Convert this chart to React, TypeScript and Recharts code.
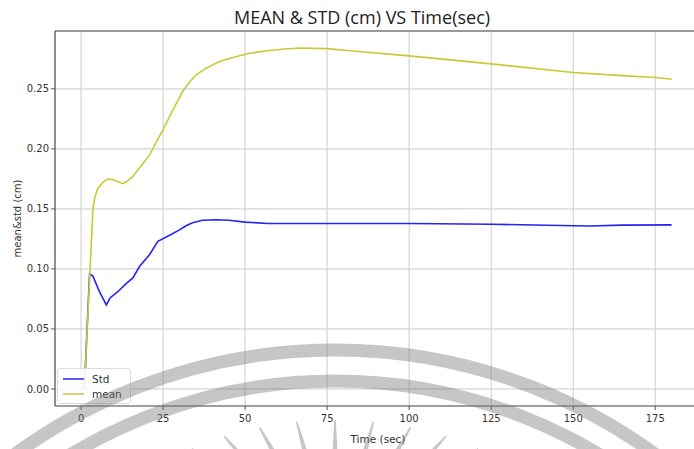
import React from "react";
import {
  LineChart,
  Line,
  XAxis,
  YAxis,
  CartesianGrid,
  Legend,
  ReferenceLine,
} from "recharts";

// values
const stdTime = [
  1, 2.6, 3.6, 5.6, 7.7, 8.9, 11.2, 13.8, 15.8, 17.8, 20.9, 23.4, 27, 30, 32,
  34, 37, 41, 45, 50, 57, 75, 100, 125, 150, 155, 165, 180,
];
const stdValues = [
  0, 0.096, 0.094, 0.081, 0.07, 0.076, 0.081, 0.088, 0.0925, 0.102, 0.112,
  0.123, 0.128, 0.1325, 0.136, 0.1385, 0.1405, 0.141, 0.1405, 0.139, 0.1378,
  0.1378, 0.1378, 0.1372, 0.136, 0.1358, 0.1365, 0.1367,
];
const meanTime = [
  1, 3.6, 4.2, 5.1, 6.6, 8.2, 10, 12.7, 14, 15.8, 18, 20.9, 23, 25, 28, 31, 33,
  35, 38, 42, 46, 51, 56, 62, 67, 75, 82, 100, 125, 150, 165, 175, 180,
];
const meanValues = [
  0, 0.149, 0.16, 0.167, 0.172, 0.175, 0.174, 0.171, 0.173, 0.177, 0.185,
  0.195, 0.206, 0.216, 0.2325, 0.248, 0.2555, 0.2615, 0.267, 0.2725, 0.276,
  0.2795, 0.2815, 0.2832, 0.284, 0.2835, 0.2817, 0.2775, 0.2708, 0.2636, 0.261,
  0.2594, 0.258,
];
const xTicks = [0, 25, 50, 75, 100, 125, 150, 175];
const yTicks = [0, 0.05, 0.1, 0.15, 0.2, 0.25];

const X_DOMAIN: [number, number] = [-7.95, 188.95];
const Y_DOMAIN: [number, number] = [-0.0142, 0.2982];

const stdData = stdTime.map((t, i) => ({ time: t, value: stdValues[i] }));
const meanData = meanTime.map((t, i) => ({ time: t, value: meanValues[i] }));

const TICK_FONT = { fontFamily: "DejaVu Sans", fontSize: 10, fill: "#333" };

const renderLegend = (props: any) => {
  const { payload } = props;
  return (
    <div
      style={{
        background: "rgba(255,255,255,0.85)",
        border: "1px solid #dcdcdc",
        borderRadius: 3,
        padding: "2px 8px 2px 5px",
        fontFamily: "DejaVu Sans",
        fontSize: 10.5,
        color: "#333",
      }}
    >
      {(payload || []).map((entry: any) => (
        <div
          key={entry.value}
          style={{ display: "flex", alignItems: "center", height: 15 }}
        >
          <span
            style={{
              display: "inline-block",
              width: 21,
              borderTop: `2px solid ${entry.color}`,
              marginRight: 8,
              opacity: 0.75,
            }}
          />
          {entry.value}
        </div>
      ))}
    </div>
  );
};

// faint logo watermark lying over the picture
const Watermark = () => {
  const rays = [];
  const n = 13;
  for (let i = 0; i < n; i++) {
    const phi = ((-146 + (112 * i) / (n - 1)) * Math.PI) / 180;
    const tx = 335 + 236 * Math.cos(phi);
    const ty = 560 + 140 * Math.sin(phi);
    const dx = 335 - tx;
    const dy = 560 - ty;
    const len = Math.hypot(dx, dy);
    const ux = dx / len;
    const uy = dy / len;
    const bx = tx + ux * 45;
    const by = ty + uy * 45;
    const px = -uy;
    const py = ux;
    const pts = [
      [tx + px * 0.8, ty + py * 0.8],
      [bx + px * 3.2, by + py * 3.2],
      [bx - px * 3.2, by - py * 3.2],
      [tx - px * 0.8, ty - py * 0.8],
    ]
      .map((p) => p.join(","))
      .join(" ");
    rays.push(<polygon key={i} points={pts} fill="rgba(120,120,120,0.42)" />);
  }
  return (
    <svg
      width={694}
      height={449}
      style={{ position: "absolute", left: 0, top: 0, pointerEvents: "none" }}
    >
      <circle
        cx={335}
        cy={893}
        r={543}
        fill="none"
        stroke="rgba(120,120,120,0.42)"
        strokeWidth={13}
      />
      <circle
        cx={335}
        cy={893}
        r={512}
        fill="none"
        stroke="rgba(120,120,120,0.42)"
        strokeWidth={13}
      />
      {rays}
    </svg>
  );
};

export default function App() {
  return (
    <div
      style={{
        position: "absolute",
        left: 0,
        top: 0,
        width: 694,
        height: 449,
        overflow: "hidden",
        background: "#fff",
      }}
    >
      <div
        style={{
          position: "absolute",
          left: 0,
          width: 724,
          top: 5,
          textAlign: "center",
          fontFamily: "Open Sans",
          fontSize: 18,
          color: "#222",
        }}
      >
        MEAN &amp; STD (cm) VS Time(sec)
      </div>
      <LineChart
        width={710}
        height={449}
        margin={{ top: 31, right: 9, bottom: 0, left: 0 }}
      >
        <CartesianGrid stroke="#d4d4d4" strokeWidth={1.2} />
        <XAxis
          dataKey="time"
          type="number"
          domain={X_DOMAIN}
          allowDataOverflow
          ticks={xTicks}
          height={43}
          tickSize={4}
          tickMargin={5}
          tick={TICK_FONT}
          axisLine={{ stroke: "#555", strokeWidth: 1.2 }}
          tickLine={{ stroke: "#555" }}
          label={{
            value: "Time (sec)",
            position: "insideBottom",
            offset: 6,
            style: { fontFamily: "DejaVu Sans", fontSize: 10.5, fill: "#333" },
          }}
        />
        <YAxis
          type="number"
          domain={Y_DOMAIN}
          allowDataOverflow
          ticks={yTicks}
          width={55}
          tickSize={4}
          tickMargin={2}
          tick={TICK_FONT}
          tickFormatter={(v: number) => v.toFixed(2)}
          axisLine={{ stroke: "#555", strokeWidth: 1.2 }}
          tickLine={{ stroke: "#555" }}
          label={{
            value: "mean&std (cm)",
            angle: -90,
            position: "insideLeft",
            offset: 17,
            style: {
              fontFamily: "DejaVu Sans",
              fontSize: 10,
              fill: "#333",
              textAnchor: "middle",
            },
          }}
        />
        <ReferenceLine y={Y_DOMAIN[1]} stroke="#999" strokeWidth={2} />
        <Line
          data={stdData}
          dataKey="value"
          name="Std"
          type="linear"
          stroke="#2424f4"
          strokeWidth={1.6}
          dot={false}
          isAnimationActive={false}
        />
        <Line
          data={meanData}
          dataKey="value"
          name="mean"
          type="linear"
          stroke="#c9c934"
          strokeWidth={1.6}
          dot={false}
          isAnimationActive={false}
        />
        <Legend
          layout="horizontal"
          verticalAlign="middle"
          align="center"
          content={renderLegend}
          wrapperStyle={{ left: 57, top: 368, width: "auto", height: "auto" }}
        />
      </LineChart>
      <Watermark />
    </div>
  );
}
